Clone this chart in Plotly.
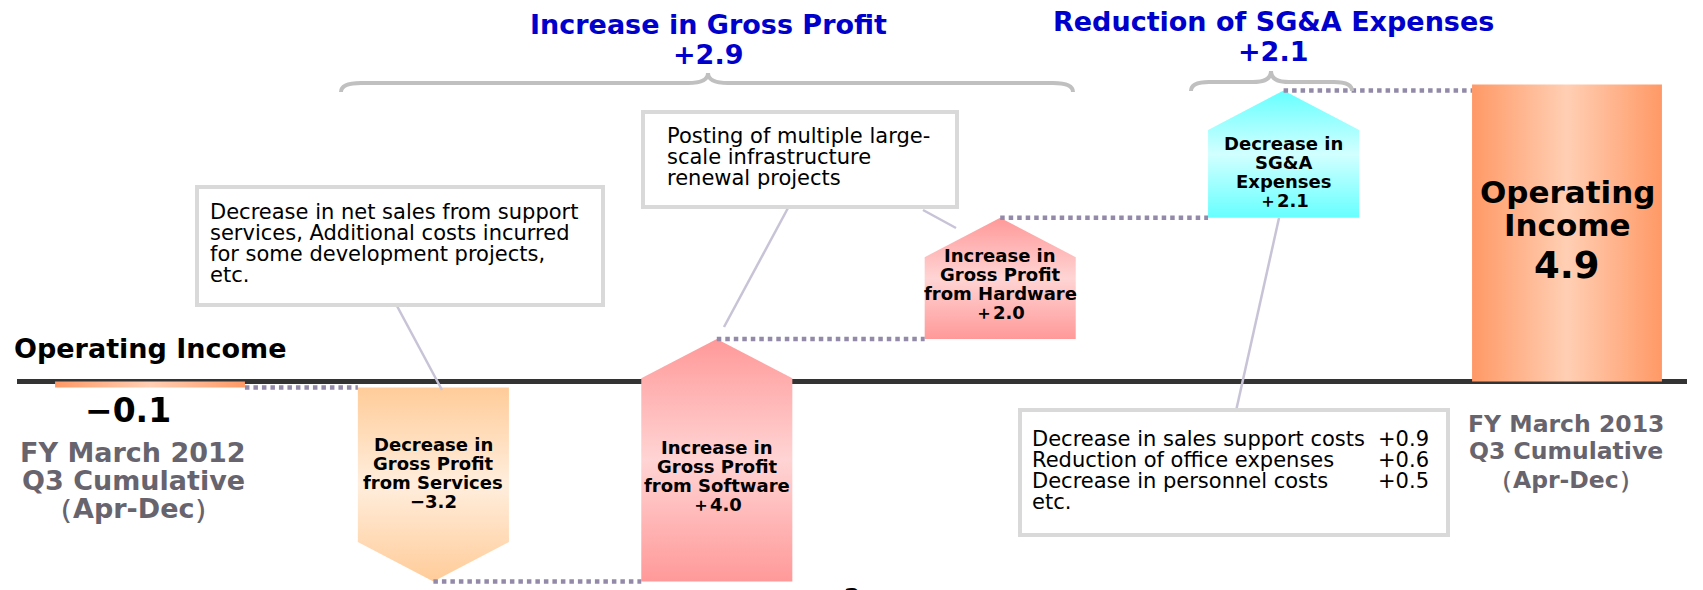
import plotly.graph_objects as go

W, H = 1703, 590

# ---------------- data ----------------
categories = ["FY March 2012 Q3", "Services", "Software", "Hardware", "SG&A", "FY March 2013 Q3"]
measures = ["absolute", "relative", "relative", "relative", "relative", "total"]
values = [-0.1, -3.2, 4.0, 2.0, 2.1, 4.9]
arrow_text = [
    None,
    ["Decrease in", "Gross Profit", "from Services"],
    ["Increase in", "Gross Profit", "from Software"],
    ["Increase in", "Gross Profit", "from Hardware"],
    ["Decrease in", "SG&A", "Expenses"],
    None,
]
group_titles = ["Increase in Gross Profit", "Reduction of SG&A Expenses"]
group_values = [2.9, 2.1]
period_text = [["FY March 2012", "Q3 Cumulative", "（Apr-Dec）"],
               ["FY March 2013", "Q3 Cumulative", "（Apr-Dec）"]]
note_services = ["Decrease in net sales from support",
                 "services, Additional costs incurred",
                 "for some development projects,",
                 "etc."]
note_software = ["Posting of multiple large-", "scale infrastructure", "renewal projects"]
sga_items = ["Decrease in sales support costs", "Reduction of office expenses", "Decrease in personnel costs"]
sga_values = [0.9, 0.6, 0.5]
sga_tail = "etc."
axis_label = "Operating Income"
end_label = ["Operating", "Income"]
page_number = "2"

# ---------------- styles / layout constants ----------------
X0_PX, X_STEP = 150.0, 283.4      # pixel of category 0, pixels per category
Y0_PX, Y_UNIT = 381.4, 60.6       # pixel of value 0, pixels per unit
HW_ARROW, HW_TOTAL = 0.2665, 0.335
HEAD = 0.65
FONT = "DejaVu Sans"
fills = {
    "total": ("#FF9966", "#FFCFB4"),
    1: ("#FFCC99", "#FFEEDD"),
    2: ("#FF9999", "#FFD4D4"),
    3: ("#FF9999", "#FFD4D4"),
    4: ("#66FFFF", "#D2FFFF"),
}
label_y_px = [None, 473, 476, 284, 172, None]
line_off = [-28.5, -9.5, 9.5, 28.5]
DOT = "#928AA8"
CALLOUT = "#C8C3D6"
BOX = "#D9D9D9"
GRAY = "#67646E"
BLUE = "#0000CC"


def px(x):
    return x / W


def py(y):
    return 1 - y / H


# ---------------- compute levels ----------------
levels = []
run = 0.0
for m, v in zip(measures, values):
    if m == "absolute":
        s, e = 0.0, v
        run = v
    elif m == "relative":
        s, e = run, run + v
        run = run + v
    else:
        s, e = 0.0, v
    levels.append((s, e))

fig = go.Figure()

# bars / arrows
for i, (m, (s, e)) in enumerate(zip(measures, levels)):
    if m in ("absolute", "total"):
        hw = HW_TOTAL
        xs = [i - hw, i - hw, i + hw, i + hw, i - hw]
        ys = [s, e, e, s, s]
        c1, c2 = fills["total"]
        grad = dict(type="horizontal", colorscale=[[0, c1], [0.5, c2], [1, c1]])
    else:
        hw = HW_ARROW
        sh = e - HEAD if e > s else e + HEAD
        xs = [i - hw, i - hw, i, i + hw, i + hw, i - hw]
        ys = [s, sh, e, sh, s, s]
        c1, c2 = fills[i]
        grad = dict(type="vertical", colorscale=[[0, c1], [0.5, c2], [1, c1]])
    fig.add_trace(go.Scatter(x=xs, y=ys, mode="lines", fill="toself",
                             fillgradient=grad, line=dict(width=0),
                             hoverinfo="skip", showlegend=False))

# dotted connectors
for i in range(len(values) - 1):
    y = levels[i][1]
    x0 = i + HW_TOTAL if measures[i] in ("absolute", "total") else i
    x1 = (i + 1) - (HW_TOTAL if measures[i + 1] in ("absolute", "total") else HW_ARROW)
    fig.add_trace(go.Scatter(x=[x0, x1], y=[y, y], mode="lines",
                             line=dict(color=DOT, width=4.5, dash="4.5px,4px"),
                             hoverinfo="skip", showlegend=False))

shapes = []
# zero baseline
shapes.append(dict(type="line", xref="paper", yref="y", x0=px(17), x1=px(1687), y0=0, y1=0,
                   line=dict(color="#333333", width=5), layer="below"))


def brace(x0, x1, xc, y_end, y_flat, y_tip, r=20):
    p = (f"M {px(x0)},{py(y_end)} Q {px(x0)},{py(y_flat)} {px(x0 + r)},{py(y_flat)} "
         f"L {px(xc - r)},{py(y_flat)} Q {px(xc)},{py(y_flat)} {px(xc)},{py(y_tip)} "
         f"Q {px(xc)},{py(y_flat)} {px(xc + r)},{py(y_flat)} "
         f"L {px(x1 - r)},{py(y_flat)} Q {px(x1)},{py(y_flat)} {px(x1)},{py(y_end)}")
    return dict(type="path", xref="paper", yref="paper", path=p,
                line=dict(color="#C0C0C0", width=4))


shapes.append(brace(341, 1073, 708, 92, 83, 73))
shapes.append(brace(1191, 1352, 1271, 91, 82, 71, r=18))

# callout lines
for (ax, ay, bx, by) in [(397, 306, 442, 390), (788, 208, 724, 327),
                         (923, 210, 956, 228), (1279, 218, 1236, 411)]:
    shapes.append(dict(type="line", xref="paper", yref="paper",
                       x0=px(ax), y0=py(ay), x1=px(bx), y1=py(by),
                       line=dict(color=CALLOUT, width=2.5)))

# note boxes
for (x0, y0, x1, y1) in [(197, 187, 603, 305), (643, 112, 957, 207), (1020, 410, 1448, 535)]:
    shapes.append(dict(type="rect", xref="paper", yref="paper",
                       x0=px(x0), y0=py(y0), x1=px(x1), y1=py(y1),
                       fillcolor="white", line=dict(color=BOX, width=4)))

annotations = []


def txt(x, y, s, size, color="black", bold=True, xanchor="center", xref="paper"):
    annotations.append(dict(
        x=px(x) if xref == "paper" else x, y=py(y), xref=xref, yref="paper",
        text=s, showarrow=False, xanchor=xanchor, yanchor="middle",
        font=dict(family=FONT, size=size, color=color, weight="bold" if bold else "normal")))


def signed(v, plus="＋", minus="−"):
    return (plus if v > 0 else minus) + f"{abs(v):.1f}"


# arrow labels
for i, lines in enumerate(arrow_text):
    if lines is None:
        continue
    all_lines = lines + [signed(values[i])]
    for k, line in enumerate(all_lines):
        txt(i, label_y_px[i] + line_off[k], line, 18, xref="x")

# end bar label
txt(5, 192, end_label[0], 31, xref="x")
txt(5, 225, end_label[1], 31, xref="x")
txt(5, 265, f"{values[-1]:.1f}", 37, xref="x")

# start value
txt(128, 410, signed(values[0], plus="+", minus="−"), 33)

# period labels
for line, y in zip(period_text[0], [452, 480, 508]):
    txt(133, y, line, 27, color=GRAY)
for line, y in zip(period_text[1], [424, 451, 480]):
    txt(1566, y, line, 23.5, color=GRAY)

# axis label
txt(12, 348, axis_label, 27, xanchor="left")

# group titles
txt(708, 24, group_titles[0], 27, color=BLUE)
txt(708, 54, signed(group_values[0], plus="+"), 27, color=BLUE)
txt(1273, 22, group_titles[1], 27, color=BLUE)
txt(1273, 52, signed(group_values[1], plus="+"), 27, color=BLUE)

# note texts
for k, line in enumerate(note_services):
    txt(208, 212 + 21 * k, line, 21, bold=False, xanchor="left")
for k, line in enumerate(note_software):
    txt(665, 136 + 21 * k, line, 21, bold=False, xanchor="left")
for k, (item, v) in enumerate(zip(sga_items, sga_values)):
    txt(1030, 439 + 21 * k, item, 21, bold=False, xanchor="left")
    txt(1431, 439 + 21 * k, f"+{v:.1f}", 21, bold=False, xanchor="right")
txt(1030, 439 + 21 * 3, sga_tail, 21, bold=False, xanchor="left")

# page number (partially cut off at the bottom, as in the source slide)
txt(852, 598, page_number, 24)

fig.update_layout(
    width=W, height=H,
    margin=dict(l=0, r=0, t=0, b=0),
    paper_bgcolor="white", plot_bgcolor="white",
    xaxis=dict(range=[-X0_PX / X_STEP, (W - X0_PX) / X_STEP], visible=False, fixedrange=True),
    yaxis=dict(range=[-(H - Y0_PX) / Y_UNIT, Y0_PX / Y_UNIT], visible=False, fixedrange=True),
    shapes=shapes, annotations=annotations, showlegend=False,
)

fig.write_html("out.html", config={"displayModeBar": False},
               post_script="document.body.style.margin='0';")
